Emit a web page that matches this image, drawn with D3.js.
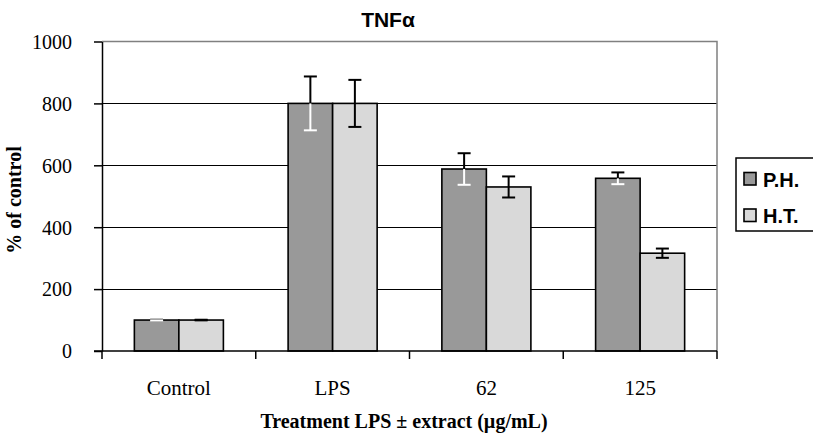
<!DOCTYPE html>
<html>
<head>
<meta charset="utf-8">
<script src="https://cdn.jsdelivr.net/npm/d3@7/dist/d3.min.js"></script>
<style>
  html, body { margin: 0; padding: 0; background: #fff; }
  svg { display: block; }
</style>
</head>
<body>
<svg id="chart" width="813" height="433"></svg>
<script>
// TNFα release, % of control, per treatment
const categories = ["Control", "LPS", "62", "125"];
const seriesNames = ["P.H.", "H.T."];
const phValues = [100, 800, 588, 558];
const phErrors = [1, 87, 51, 19];
const htValues = [100, 800, 530, 316];
const htErrors = [1, 76, 34, 15];
const yTicks = [0, 200, 400, 600, 800, 1000];

const colors = { "P.H.": "#999999", "H.T.": "#d9d9d9" };
const serif = "'Liberation Serif', 'Times New Roman', serif";
const sans = "'Liberation Sans', Arial, sans-serif";

const svg = d3.select("#chart");
const plot = { left: 102, right: 717, top: 41.5, bottom: 351 };

const x = d3.scaleBand().domain(categories).range([plot.left, plot.right]).paddingInner(0).paddingOuter(0);
const xs = d3.scaleBand().domain(seriesNames).range([0, x.bandwidth()]).paddingInner(0).paddingOuter(0.727);
const y = d3.scaleLinear().domain([0, 1000]).range([plot.bottom, plot.top]);

const data = categories.map((c, i) => ({
  cat: c,
  bars: [
    { s: "P.H.", v: phValues[i], e: phErrors[i] },
    { s: "H.T.", v: htValues[i], e: htErrors[i] }
  ]
}));

// horizontal gridlines
svg.append("g").selectAll("line")
  .data(yTicks.filter(t => t > 0 && t < 1000))
  .join("line")
  .attr("x1", plot.left).attr("x2", plot.right)
  .attr("y1", d => Math.round(y(d)) + 0.5).attr("y2", d => Math.round(y(d)) + 0.5)
  .attr("stroke", "#000").attr("stroke-width", 1);

// plot frame (top and right)
svg.append("path")
  .attr("d", `M${plot.left},${y(1000)}H${plot.right}V${plot.bottom}`)
  .attr("fill", "none").attr("stroke", "#808080").attr("stroke-width", 1.5);

// bars
const groups = svg.append("g").selectAll("g")
  .data(data).join("g")
  .attr("transform", d => `translate(${x(d.cat)},0)`);

groups.selectAll("rect")
  .data(d => d.bars).join("rect")
  .attr("x", d => xs(d.s))
  .attr("y", d => y(d.v))
  .attr("width", xs.bandwidth())
  .attr("height", d => y(0) - y(d.v))
  .attr("fill", d => colors[d.s])
  .attr("stroke", "#000").attr("stroke-width", 1.6);

// error bars: upper arm black; lower arm white over the dark series
const capW = 13;
groups.each(function(d) {
  const g = d3.select(this);
  d.bars.forEach(b => {
    const cx = xs(b.s) + xs.bandwidth() / 2;
    const lowColor = b.s === "P.H." ? "#fff" : "#000";
    const eb = g.append("g").attr("stroke-width", 2);
    eb.append("line").attr("x1", cx).attr("x2", cx)
      .attr("y1", y(b.v)).attr("y2", y(b.v + b.e)).attr("stroke", "#000");
    eb.append("line").attr("x1", cx - capW / 2).attr("x2", cx + capW / 2)
      .attr("y1", y(b.v + b.e)).attr("y2", y(b.v + b.e)).attr("stroke", "#000");
    eb.append("line").attr("x1", cx).attr("x2", cx)
      .attr("y1", y(b.v)).attr("y2", y(b.v - b.e)).attr("stroke", lowColor);
    eb.append("line").attr("x1", cx - capW / 2).attr("x2", cx + capW / 2)
      .attr("y1", y(b.v - b.e)).attr("y2", y(b.v - b.e)).attr("stroke", lowColor);
  });
});

// y axis
const yAxis = svg.append("g")
  .attr("transform", `translate(${plot.left},0)`)
  .call(d3.axisLeft(y).tickValues(yTicks).tickFormat(d3.format("d"))
    .tickSize(8).tickPadding(22).tickSizeOuter(0));
yAxis.attr("font-family", serif).attr("font-size", 20);
yAxis.select(".domain").attr("stroke", "#000").attr("stroke-width", 1.5);
yAxis.selectAll(".tick line").attr("stroke", "#000").attr("stroke-width", 1.5);
yAxis.selectAll(".tick text")
  .style("font-family", serif).style("font-size", "20px")
  .attr("dy", "0.34em").attr("fill", "#000");

// x axis: ticks at category boundaries
const xAxisG = svg.append("g").attr("transform", `translate(0,${plot.bottom})`);
xAxisG.append("line")
  .attr("x1", plot.left - 8).attr("x2", plot.right)
  .attr("stroke", "#000").attr("stroke-width", 1.5);
const bounds = categories.map(c => x(c)).concat([x(categories[categories.length - 1]) + x.bandwidth()]);
xAxisG.selectAll("line.tk").data(bounds).join("line")
  .attr("class", "tk")
  .attr("x1", d => d).attr("x2", d => d).attr("y1", 0).attr("y2", 8)
  .attr("stroke", "#000").attr("stroke-width", 1.5);
xAxisG.selectAll("text").data(categories).join("text")
  .attr("x", d => x(d) + x.bandwidth() / 2)
  .attr("y", 44)
  .attr("text-anchor", "middle")
  .style("font-family", serif).style("font-size", "21px")
  .attr("fill", "#000")
  .text(d => d);

// titles
svg.append("text")
  .attr("x", 388).attr("y", 27)
  .attr("text-anchor", "middle")
  .style("font-family", sans).style("font-weight", "bold").style("font-size", "21px")
  .text("TNFα");

svg.append("text")
  .attr("x", 404).attr("y", 428)
  .attr("text-anchor", "middle")
  .style("font-family", serif).style("font-weight", "bold").style("font-size", "20px")
  .text("Treatment LPS ± extract (µg/mL)");

svg.append("text")
  .attr("transform", "translate(21,200) rotate(-90)")
  .attr("text-anchor", "middle")
  .style("font-family", serif).style("font-weight", "bold").style("font-size", "20px")
  .text("% of control");

// legend
const legend = svg.append("g");
legend.append("rect")
  .attr("x", 736).attr("y", 158).attr("width", 90).attr("height", 73)
  .attr("fill", "#fff").attr("stroke", "#000").attr("stroke-width", 1.5);
seriesNames.forEach((s, i) => {
  const ly = 172.5 + i * 36.5;
  legend.append("rect")
    .attr("x", 744).attr("y", ly).attr("width", 12).attr("height", 12.5)
    .attr("fill", colors[s]).attr("stroke", "#000").attr("stroke-width", 1.6);
  legend.append("text")
    .attr("x", 763).attr("y", ly + 14)
    .style("font-family", sans).style("font-weight", "bold").style("font-size", "20px")
    .text(s);
});
</script>
</body>
</html>
